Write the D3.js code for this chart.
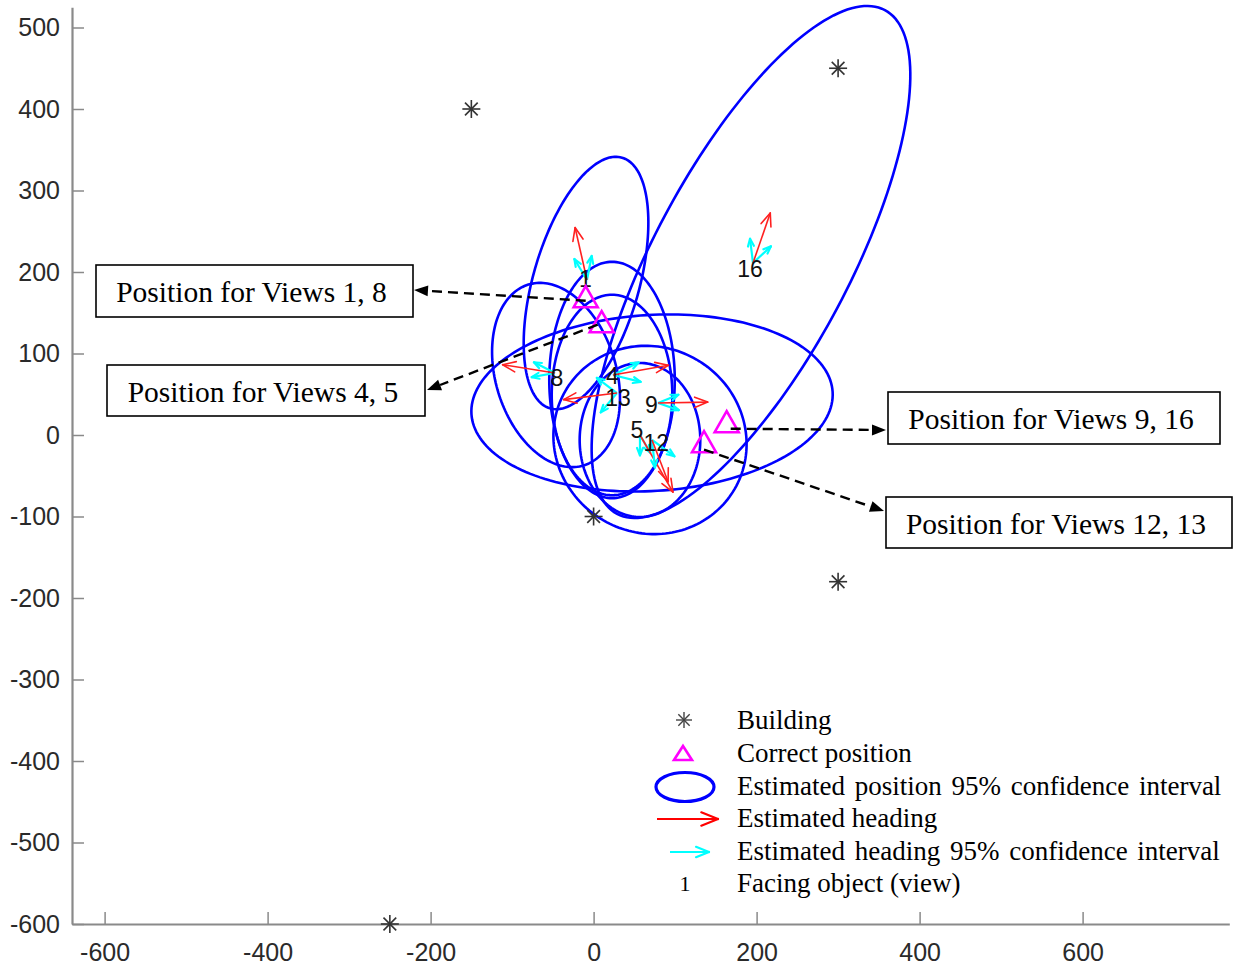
<!DOCTYPE html>
<html><head><meta charset="utf-8">
<script src="https://cdn.jsdelivr.net/npm/d3@7"></script>
<style>body{margin:0;background:#fff} svg{display:block}</style>
</head><body><svg id="c" width="1233" height="972"></svg>
<script>
// ---------- data ----------
const xTicks = [-600, -400, -200, 0, 200, 400, 600];
const yTicks = [-600, -500, -400, -300, -200, -100, 0, 100, 200, 300, 400, 500];

const buildingX = [-150, 300, 0, 300, -250];
const buildingY = [400, 450, -100, -180, -600];

const correctX = [-9.7, 9.9, 163.3, 135.5];
const correctY = [169.7, 139, 16.3, -8.2];

const viewLabels = ["1", "16", "8", "4", "13", "9", "5", "12"];
const estX = [-8.1, 195.6, -47.4, 23.8, 28.7, 79.0, 56.9, 71.7];
const estY = [190.2, 211.0, 76.1, 73.6, 51.5, 39.3, 0.0, -6.1];
// where each view number is written (data units)
const labelX = [-10, 192, -45, 23, 30, 71, 53, 77];
const labelY = [192, 204, 70, 72, 46, 37, 6, -10];

// 95% confidence ellipses (data units, angle in degrees CCW)
const ellCX = [-9.3, 193.1, -46.1, 22.6, 22.6, 71.7, 56.9, 69.2];
const ellCY = [186.5, 212.3, 73.6, 67.5, 49.1, 39.3, -6.1, -6.1];
const ellA = [160, 350, 116, 145, 123, 222, 94.5, 120];
const ellB = [65, 120, 74, 77, 74, 108, 74, 114];
const ellAngle = [74, 62, 107, 90, 90, 3.5, 90, -30];

// headings (degrees CCW from +x) and arrow lengths (data units)
const headingDeg = [102.8, 71, 171, 10, 187, 1, -60, -69];
const headingLen = [66, 65, 65, 69, 66, 61, 81, 55];
const ciLowDeg = [79, 43, 153, -14, 143, -19, -90, -84];
const ciHighDeg = [121, 97, 190, 26, 230, 22, -60, -36];
const ciLen = [30, 30, 29, 35, 31, 27, 25, 34];

const annotationTexts = ["Position for Views 1, 8", "Position for Views 4, 5",
  "Position for Views 9, 16", "Position for Views 12, 13"];
const annotationTarget = [0, 1, 2, 3]; // index into correct positions

const legendLabels = ["Building", "Correct position",
  "Estimated position 95% confidence interval", "Estimated heading",
  "Estimated heading 95% confidence interval", "Facing object (view)"];

// ---------- drawing ----------
const svg = d3.select("#c");
const K = 0.815;
const x = d3.scaleLinear().domain([-640, 780]).range([72, 72 + 1420 * K]);
const y = d3.scaleLinear().domain([-600, 525]).range([924, 924 - 1125 * K]);

const axisColor = "#8a8a8a";
const gx = svg.append("g").attr("transform", "translate(0,924)")
  .call(d3.axisBottom(x).tickValues(xTicks).tickFormat(d => String(d))
    .tickSizeInner(-12).tickSizeOuter(0).tickPadding(19));
const gy = svg.append("g").attr("transform", "translate(72,0)")
  .call(d3.axisLeft(y).tickValues(yTicks).tickFormat(d => String(d))
    .tickSizeInner(-12).tickSizeOuter(0).tickPadding(12));
[gx, gy].forEach(g => {
  g.select(".domain").attr("stroke", axisColor).attr("stroke-width", 2.2);
  g.selectAll(".tick line").attr("stroke", axisColor).attr("stroke-width", 1.5);
  g.selectAll(".tick text").attr("fill", "#2a2a2a")
    .style("font-family", "'Liberation Sans', Arial, sans-serif").style("font-size", "25px");
});

// ellipses
const line = d3.line().x(d => x(d[0])).y(d => y(d[1])).curve(d3.curveLinearClosed);
function ellipsePts(cx, cy, a, b, ang) {
  const t = ang * Math.PI / 180;
  return d3.range(0, 360, 2).map(dg => {
    const p = dg * Math.PI / 180, u = a * Math.cos(p), v = b * Math.sin(p);
    return [cx + u * Math.cos(t) - v * Math.sin(t), cy + u * Math.sin(t) + v * Math.cos(t)];
  });
}
const gE = svg.append("g");
ellCX.forEach((cx, i) => {
  gE.append("path").attr("d", line(ellipsePts(cx, ellCY[i], ellA[i], ellB[i], ellAngle[i])))
    .attr("fill", "none").attr("stroke", "#0000ff").attr("stroke-width", 2.6);
});

// arrows
function arrow(g, x0, y0, x1, y1, color, head, w) {
  g.append("line").attr("x1", x0).attr("y1", y0).attr("x2", x1).attr("y2", y1)
    .attr("stroke", color).attr("stroke-width", w);
  const a = Math.atan2(y1 - y0, x1 - x0), s = 0.38;
  [a + Math.PI - s, a + Math.PI + s].forEach(b => {
    g.append("line").attr("x1", x1).attr("y1", y1)
      .attr("x2", x1 + head * Math.cos(b)).attr("y2", y1 + head * Math.sin(b))
      .attr("stroke", color).attr("stroke-width", w).attr("stroke-linecap", "round");
  });
}
const gA = svg.append("g");
estX.forEach((ex, i) => {
  const ey = estY[i];
  [ciLowDeg[i], ciHighDeg[i]].forEach(dg => {
    const r = dg * Math.PI / 180;
    arrow(gA, x(ex), y(ey), x(ex + ciLen[i] * Math.cos(r)), y(ey + ciLen[i] * Math.sin(r)), "#00ffff", 8, 2.2);
  });
  const r = headingDeg[i] * Math.PI / 180;
  arrow(gA, x(ex), y(ey), x(ex + headingLen[i] * Math.cos(r)), y(ey + headingLen[i] * Math.sin(r)), "#ff2020", 14, 1.6);
});
// view labels
labelX.forEach((lx, i) => {
  svg.append("text").attr("x", x(lx)).attr("y", y(labelY[i]))
    .attr("text-anchor", "middle").attr("dominant-baseline", "central")
    .style("font-family", "'Liberation Sans', Arial, sans-serif").style("font-size", "23px")
    .attr("fill", "#111").text(viewLabels[i]);
});

// buildings
function star(g, cx, cy, r, color, w) {
  [0, 45, 90, 135].forEach(dg => {
    const t = dg * Math.PI / 180;
    g.append("line").attr("x1", cx - r * Math.cos(t)).attr("y1", cy - r * Math.sin(t))
      .attr("x2", cx + r * Math.cos(t)).attr("y2", cy + r * Math.sin(t))
      .attr("stroke", color).attr("stroke-width", w);
  });
}
const gB = svg.append("g");
buildingX.forEach((bx, i) => star(gB, x(bx), y(buildingY[i]), 9, "#333", 1.6));

// correct positions
function tri(g, cx, cy, w, h) {
  g.append("path").attr("d", `M${cx},${cy - h / 2}L${cx + w / 2},${cy + h / 2}L${cx - w / 2},${cy + h / 2}Z`)
    .attr("fill", "none").attr("stroke", "#ff00ff").attr("stroke-width", 2.6).attr("stroke-linejoin", "miter");
}
const gT = svg.append("g");
correctX.forEach((cx, i) => tri(gT, x(cx), y(correctY[i]), 24, 21));

// annotation boxes + dashed arrows
const boxes = [
  { x: 96, y: 265, w: 317, h: 52, tip: [414, 290], off: [0, 4] },
  { x: 107, y: 365, w: 318, h: 51, tip: [427, 390], off: [-4, 3] },
  { x: 888, y: 392, w: 332, h: 52, tip: [886, 430], off: [4, 7] },
  { x: 886, y: 497, w: 346, h: 51, tip: [884, 511], off: [0, 8] }
];
const gN = svg.append("g");
boxes.forEach((b, i) => {
  const k = annotationTarget[i];
  const sx = x(correctX[k]) + b.off[0], sy = y(correctY[k]) + b.off[1];
  const [tx, ty] = b.tip;
  const a = Math.atan2(ty - sy, tx - sx), L = 14, W = 5.5;
  const bx = tx - L * Math.cos(a), by = ty - L * Math.sin(a);
  gN.append("line").attr("x1", sx).attr("y1", sy).attr("x2", bx).attr("y2", by)
    .attr("stroke", "#000").attr("stroke-width", 2.4).attr("stroke-dasharray", "10,6");
  gN.append("path").attr("d", `M${tx},${ty}L${bx - W * Math.sin(a)},${by + W * Math.cos(a)}L${bx + W * Math.sin(a)},${by - W * Math.cos(a)}Z`)
    .attr("fill", "#000");
  gN.append("rect").attr("x", b.x).attr("y", b.y).attr("width", b.w).attr("height", b.h)
    .attr("fill", "#fff").attr("stroke", "#000").attr("stroke-width", 1.6);
  gN.append("text").attr("x", b.x + b.w / 2 - 3).attr("y", b.y + b.h / 2 + 1)
    .attr("text-anchor", "middle").attr("dominant-baseline", "central")
    .style("font-family", "'Liberation Serif', 'Times New Roman', serif").style("font-size", "29.5px")
    .attr("fill", "#000").text(annotationTexts[i]);
});

// legend
const gL = svg.append("g");
const rowY = [720, 753, 786, 818, 851, 883];
legendLabels.forEach((t, i) => {
  gL.append("text").attr("x", 737).attr("y", rowY[i]).attr("dominant-baseline", "central")
    .style("font-family", "'Liberation Serif', 'Times New Roman', serif").style("font-size", "27px")
    .style("word-spacing", i === 2 || i === 4 ? "3px" : "0px")
    .attr("fill", "#000").text(t);
});
star(gL, 684, rowY[0], 8, "#444", 1.4);
tri(gL, 683, rowY[1], 18, 14);
gL.append("ellipse").attr("cx", 685).attr("cy", rowY[2] + 1).attr("rx", 29).attr("ry", 14.5)
  .attr("fill", "none").attr("stroke", "#0000ff").attr("stroke-width", 3.2);
arrow(gL, 657, rowY[3] + 1, 718, rowY[3] + 1, "#ff0000", 18, 2.2);
arrow(gL, 670, rowY[4] + 1, 709, rowY[4] + 1, "#00ffff", 14, 2.2);
gL.append("text").attr("x", 685).attr("y", rowY[5]).attr("text-anchor", "middle")
  .attr("dominant-baseline", "central")
  .style("font-family", "'Liberation Serif', 'Times New Roman', serif").style("font-size", "22px")
  .attr("fill", "#000").text("1");
</script></body></html>
